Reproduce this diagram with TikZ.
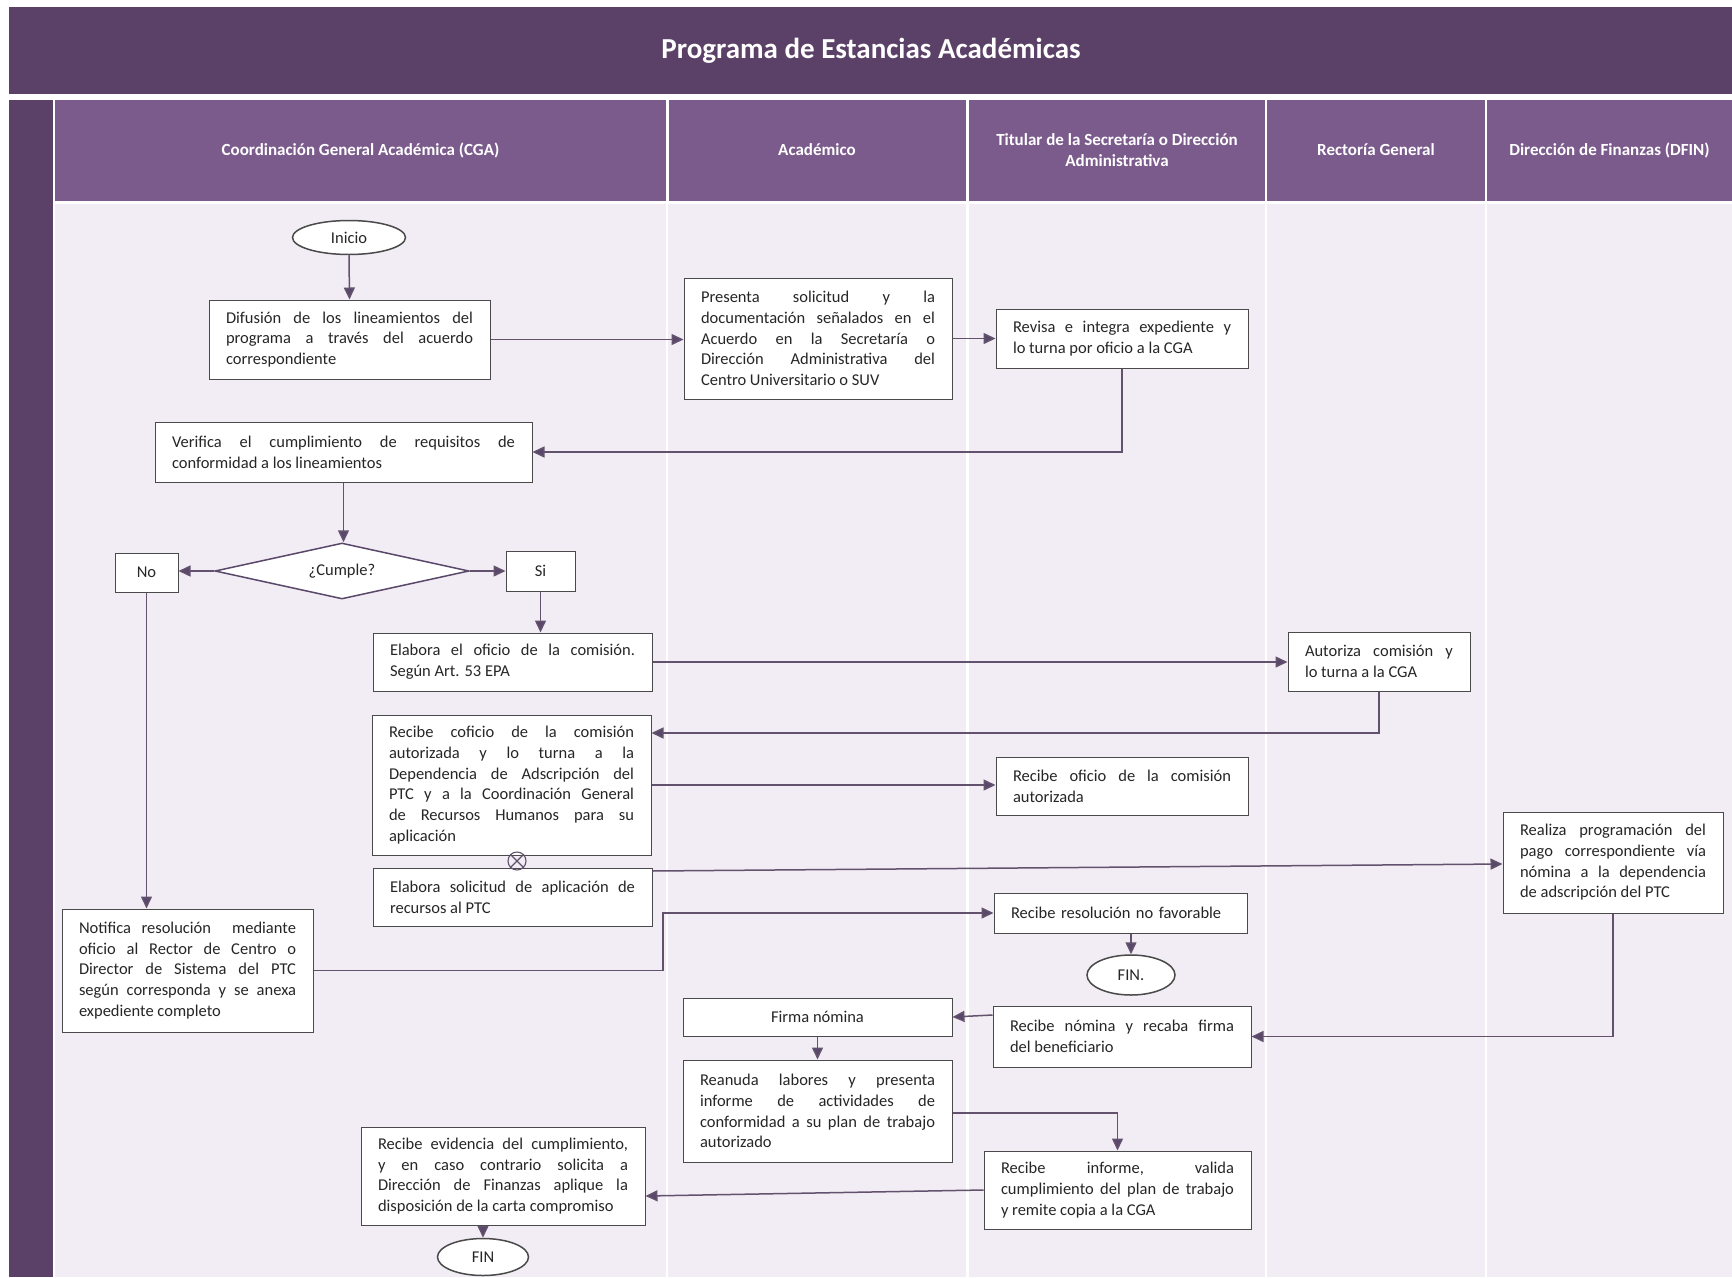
\documentclass[tikz,border=0pt]{standalone}
\usepackage{fontspec}
\setmainfont{Carlito}
\usetikzlibrary{shapes.geometric,arrows.meta,calc}
\definecolor{titlebg}{HTML}{5B4167}
\definecolor{headbg}{HTML}{7B5A8C}
\definecolor{bodybg}{HTML}{F2ECF4}
\definecolor{linec}{HTML}{62526D}
\definecolor{arrc}{HTML}{5A486A}
\definecolor{boxb}{HTML}{4A4A4A}
\definecolor{txt}{HTML}{262626}
\tolerance=10000
\hbadness=10000
\hfuzz=20pt
\begin{document}
\begin{tikzpicture}[x=1pt,y=-1pt,
  bodyfont/.style={font=\fontsize{16.5}{20.7}\selectfont\color{txt}},
  box/.style={draw=boxb, fill=white, line width=1pt, inner xsep=17pt, inner ysep=0pt, align=justify, bodyfont},
  cbox/.style={draw=boxb, fill=white, line width=1pt, inner sep=0pt, align=center, bodyfont},
  term/.style={ellipse, draw=boxb, fill=white, line width=1.5pt, inner sep=0pt, bodyfont},
  dec/.style={diamond, aspect=4.5, draw=arrc, fill=white, line width=1.5pt, inner sep=0pt, bodyfont},
  arr/.style={draw=linec, line width=1.5pt, -{Triangle[length=12pt,width=11pt,fill=arrc]}},
  head/.style={text=white, font=\fontsize{17}{21}\selectfont\bfseries, align=center}]
\useasboundingbox (0,0) rectangle (1732,1277);
% backgrounds
\fill[white] (0,0) rectangle (1732,1277);
\fill[titlebg] (9,7) rectangle (1732,94);
\fill[titlebg] (9,100) rectangle (53,1277);
\fill[bodybg] (55,202) rectangle (1732,1277);
\fill[headbg] (55,100) rectangle (666,202);
\fill[headbg] (668.5,100) rectangle (966,202);
\fill[headbg] (969,100) rectangle (1264.5,202);
\fill[headbg] (1267,100) rectangle (1484.5,202);
\fill[headbg] (1487,100) rectangle (1732,202);
\fill[white] (55,201) rectangle (1732,203.5);
\foreach \xx in {667.2,967.5,1265.8,1485.8}
  \fill[white] (\xx-1.2,202) rectangle (\xx+1.2,1277);
% title and headers
\node[text=white, font=\fontsize{29}{33}\selectfont\bfseries] (title) at (871,51) {Programa de Estancias Académicas};
\node[head] (h1) at (360.5,150) {Coordinación General Académica (CGA)};
\node[head] (h2) at (817,150) {Académico};
\node[head] (h3) at (1117,150) {Titular de la Secretaría o Dirección\\Administrativa};
\node[head] (h4) at (1376,150) {Rectoría General};
\node[head] (h5) at (1609.5,150) {Dirección de Finanzas (DFIN)};
% nodes
\node[term, minimum width=113pt, minimum height=34pt] (inicio) at (349,237.5) {Inicio};
\node[box, text width=247pt, minimum height=79pt] (difu) at (349.5,339.5)
  {Difusión de los lineamientos del\linebreak programa a través del acuerdo\linebreak correspondiente};
\node[box, text width=234pt, minimum height=121pt] (pres) at (818,338.5)
  {Presenta solicitud y la\linebreak documentación señalados en el\linebreak Acuerdo en la Secretaría o\linebreak Dirección Administrativa del\linebreak Centro Universitario o SUV};
\node[box, text width=218pt, minimum height=59pt] (revi) at (1122,338.5)
  {Revisa e integra expediente y\linebreak lo turna por oficio a la CGA};
\node[box, text width=343pt, minimum height=60pt] (veri) at (343.5,452)
  {Verifica el cumplimiento de requisitos de\linebreak conformidad a los lineamientos};
\node[dec, minimum width=254pt, minimum height=56pt] (cumple) at (342,571) {¿Cumple?};
\node[cbox, minimum width=63pt, minimum height=39pt] (no) at (146.5,572.5) {No};
\node[cbox, minimum width=69pt, minimum height=40pt] (si) at (540.5,571) {Si};
\node[box, text width=245pt, minimum height=58pt] (elof) at (512.5,662)
  {Elabora el oficio de la comisión.\linebreak Según Art. 53 EPA};
\node[box, text width=148pt, minimum height=59pt] (auto) at (1379,661.5)
  {Autoriza comisión y\linebreak lo turna a la CGA};
\node[box, text width=245pt, minimum height=140pt] (recof) at (511.5,785)
  {Recibe coficio de la comisión\linebreak autorizada y lo turna a la\linebreak Dependencia de Adscripción del\linebreak PTC y a la Coordinación General\linebreak de Recursos Humanos para su\linebreak aplicación};
\node[box, text width=245pt, minimum height=58pt] (elsol) at (512.5,897)
  {Elabora solicitud de aplicación de\linebreak recursos al PTC};
\node[circle, draw=linec, line width=1.1pt, minimum size=18pt, inner sep=0pt] (xo) at (517,861) {};
\draw[linec, line width=1.1pt] (xo.north west) -- (xo.south east) (xo.north east) -- (xo.south west);
\node[box, text width=217pt, minimum height=123pt] (notif) at (187.5,970.5)
  {Notifica resolución\ \ mediante\linebreak oficio al Rector de Centro o\linebreak Director de Sistema del PTC\linebreak según corresponda y se anexa\linebreak expediente completo};
\node[box, text width=218pt, minimum height=58pt] (recofT) at (1122,786)
  {Recibe oficio de la comisión\linebreak autorizada};
\node[box, text width=219pt, minimum height=40pt, align=left] (resol) at (1120.5,913)
  {Recibe resolución no favorable};
\node[term, minimum width=88pt, minimum height=40pt] (fin1) at (1131,975) {FIN.};
\node[box, text width=186pt, minimum height=101pt] (real) at (1613,862.5)
  {Realiza programación del\linebreak pago correspondiente vía\linebreak nómina a la dependencia\linebreak de adscripción del PTC};
\node[cbox, minimum width=269pt, minimum height=38pt] (firma) at (817.5,1017) {Firma nómina};
\node[box, text width=224pt, minimum height=61pt] (recnom) at (1122,1036.5)
  {Recibe nómina y recaba firma\linebreak del beneficiario};
\node[box, text width=235pt, minimum height=102pt] (rean) at (817.5,1111)
  {Reanuda labores y presenta\linebreak informe de actividades de\linebreak conformidad a su plan de trabajo\linebreak autorizado};
\node[box, text width=233pt, minimum height=78pt] (recinf) at (1117.5,1190)
  {Recibe informe, valida\linebreak cumplimiento del plan de trabajo\linebreak y remite copia a la CGA};
\node[box, text width=250pt, minimum height=98pt] (evid) at (503,1176)
  {Recibe evidencia del cumplimiento,\linebreak y en caso contrario solicita a\linebreak Dirección de Finanzas aplique la\linebreak disposición de la carta compromiso};
\node[term, minimum width=91pt, minimum height=37pt] (fin2) at (483,1257) {FIN};
% connectors
\draw[arr] (inicio.south) -- (difu.north);
\draw[arr] (difu.east) -- (difu.east -| pres.west);
\draw[arr] (pres.east) -- (pres.east -| revi.west);
\draw[arr] (revi.south) |- (veri.east);
\draw[arr] (veri.south) -- (veri.south |- cumple.north);
\draw[arr] (cumple.west) -- (cumple.west -| no.east);
\draw[arr] (cumple.east) -- (cumple.east -| si.west);
\draw[arr] (no.south) -- (no.south |- notif.north);
\draw[arr] (si.south) -- (si.south |- elof.north);
\draw[arr] (elof.east) -- (elof.east -| auto.west);
\coordinate (k1) at (1379,733);
\draw[arr] (auto.south) -- (k1) -- (k1 -| recof.east);
\draw[arr] (recof.east) -- (recof.east -| recofT.west);
\coordinate (m1) at (652,871);
\draw[arr] (m1) -- ($(real.west)+(0,1.5)$);
\coordinate (n1) at (663,970.5);
\draw[arr] (notif.east) -- (n1) |- (resol.west);
\draw[arr] (fin1.north |- resol.south) -- (fin1.north);
\draw[arr] (real.south) |- (recnom.east);
\draw[arr] ($(recnom.west)+(0,-21.5)$) -- (firma.east);
\draw[arr] (firma.south) -- (rean.north);
\draw[arr] ($(rean.east)+(0,2)$) -| (recinf.north);
\draw[arr] (recinf.west) -- ($(evid.east)+(0,20)$);
\draw[arr] (fin2.north |- evid.south) -- (fin2.north);
\end{tikzpicture}
\end{document}
